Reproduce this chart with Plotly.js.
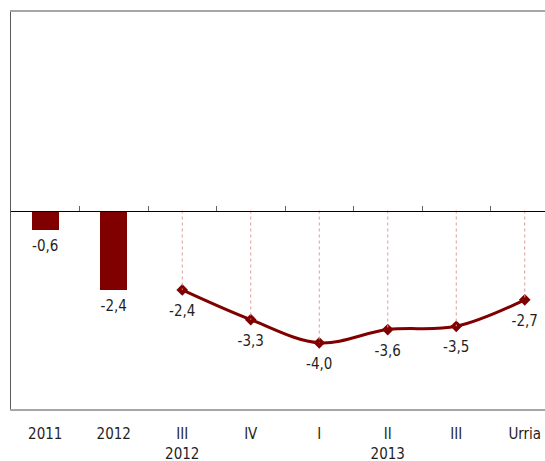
<!DOCTYPE html>
<html><head><meta charset="utf-8">
<script src="https://cdn.plot.ly/plotly-3.0.1.min.js"></script>
<style>html,body{margin:0;padding:0;overflow:hidden;background:#fff}#c{width:562px;height:461px}</style>
</head><body><div id="c"></div>
<script>
const tickLabels = ['2011','2012','III<br>2012','IV','I','II<br>2013','III','Urria'];
const barLabels = ['2011','2012'];
const barValues = [-0.6, -2.4];
const lineLabels = ['III<br>2012','IV','I','II<br>2013','III','Urria'];
const lineValues = [-2.4, -3.3, -4.0, -3.6, -3.5, -2.7];
const yRange = [-6, 6];

const idx = l => tickLabels.indexOf(l);
const barX = barLabels.map(idx);
const lineX = lineLabels.map(idx);
const dropX = [], dropY = [];
lineX.forEach((x,i)=>{dropX.push(x,x,null);dropY.push(0,lineValues[i],null);});
const boundaries = tickLabels.slice(1).map((_,i)=>i+0.5);
const red = '#800000';
const fmt = v => v.toFixed(1).replace('.',',');
const font = {family:'"Liberation Sans Narrow","DejaVu Sans Condensed",sans-serif', size:15, color:'#1f1f1f'};

const traces = [
  {type:'bar', x:barX, y:barValues, width:0.4, marker:{color:red}, hoverinfo:'skip'},
  {type:'scatter', mode:'markers+text', x:barX, y:barValues,
   marker:{size:14, color:'rgba(0,0,0,0)'},
   text:barValues.map(fmt), textposition:'bottom center',
   textfont:font, cliponaxis:false, hoverinfo:'skip'},
  {type:'scatter', mode:'lines', x:dropX, y:dropY, xaxis:'x2',
   line:{color:'#dc9a9a', width:1, dash:'dot'}, hoverinfo:'skip'},
  {type:'scatter', mode:'lines+markers', x:lineX, y:lineValues,
   line:{color:red, width:3, shape:'spline', smoothing:1},
   marker:{symbol:'diamond', size:9, color:red}, hoverinfo:'skip'},
  {type:'scatter', mode:'markers+text', x:lineX, y:lineValues,
   marker:{size:22, color:'rgba(0,0,0,0)'},
   text:lineValues.map(fmt), textposition:'bottom center',
   textfont:font, cliponaxis:false, hoverinfo:'skip'}
];

const layout = {
  width:562, height:461,
  margin:{l:11, r:3, t:12, b:52},
  showlegend:false, paper_bgcolor:'#fff', plot_bgcolor:'#fff',
  font:font, separators:',.',
  bargap:0,
  xaxis:{range:[-0.5, tickLabels.length-0.5], tickvals:tickLabels.map((_,i)=>i), ticktext:tickLabels,
    showgrid:false, zeroline:false, showline:true, mirror:true, linecolor:'#a6a6a6', linewidth:2,
    ticks:'', tickfont:font, ticklabelstandoff:10, fixedrange:true},
  xaxis2:{overlaying:'x', anchor:'free', position:(0-yRange[0])/(yRange[1]-yRange[0]), side:'top',
    range:[-0.5, tickLabels.length-0.5], tickvals:boundaries, ticks:'outside', ticklen:5, tickwidth:1,
    tickcolor:'#666', showticklabels:false, showgrid:false, zeroline:false, showline:true,
    linecolor:'#000', linewidth:1},
  yaxis:{range:yRange, showgrid:false, zeroline:false, showticklabels:false, ticks:'',
    showline:true, linecolor:'#595959', linewidth:1, fixedrange:true}
};
Plotly.newPlot('c', traces, layout, {displayModeBar:false, staticPlot:true});
</script></body></html>
